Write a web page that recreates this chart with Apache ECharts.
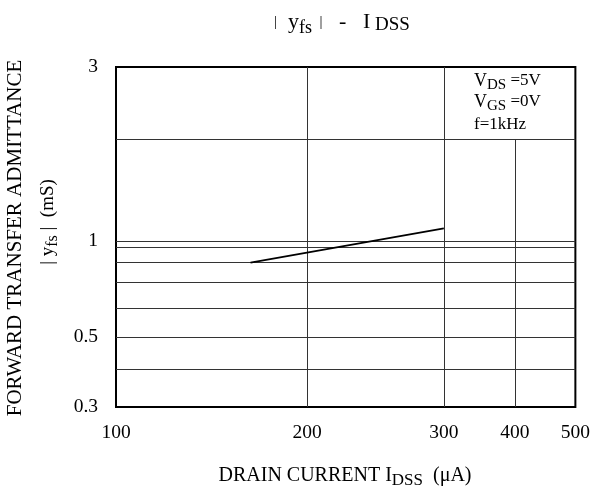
<!DOCTYPE html>
<html><head><meta charset="utf-8">
<script src="https://cdn.jsdelivr.net/npm/echarts@6/dist/echarts.min.js"></script>
<style>html,body{margin:0;padding:0;background:#fff}#c{width:593px;height:494px}</style>
</head><body><div id="c"></div>
<script>
const FONT = '"Liberation Serif","Times New Roman",serif';

// X axis: drain current I_DSS (µA), logarithmic; values at the reference's grid lines
const xTickLabels = ['100', '200', '300', '400', '500'];
const xTickValues = [100, 195.3, 315.4, 404.6, 500];
const xGridFull = [195.3, 315.4];
const xGridPartial = [404.6];            // stops under the conditions box
// Y axis: |yfs| (mS), logarithmic
const yTickLabels = ['0.3', '0.5', '1', '3'];
const yTickValues = [0.3, 0.481, 0.9234, 3];
const yGrid = [0.3862, 0.481, 0.5838, 0.698, 0.7993, 0.8847, 0.9234, 1.838];
const boxBottom = 1.838;
// Curve
const idss = [160.2, 315.4];
const yfs = [0.797, 1.006];

function nearestLabel(vals, labels, v) {
  let bi = 0, bd = Infinity;
  vals.forEach((x, i) => { const d = Math.abs(Math.log(x) - Math.log(v)); if (d < bd) { bd = d; bi = i; } });
  return labels[bi];
}

const ctx = document.createElement('canvas').getContext('2d');
function tw(t, s) { ctx.font = s + 'px ' + FONT; return ctx.measureText(t).width; }
function run(pieces, x, y, align, rotation) {
  const total = pieces.reduce((a, p) => a + tw(p.t, p.s), 0);
  let cx = align === 'center' ? -total / 2 : 0;
  const children = pieces.map(p => {
    const el = { type: 'text', x: cx, y: p.dy || 0, style: { text: p.t, font: p.s + 'px ' + FONT, fill: '#000', textAlign: 'left', textVerticalAlign: 'middle', verticalAlign: 'middle' } };
    cx += tw(p.t, p.s);
    return el;
  });
  return { type: 'group', x: x, y: y, rotation: rotation || 0, children: children, silent: true };
}

const chart = echarts.init(document.getElementById('c'), null, { renderer: 'canvas' });
chart.setOption({
  animation: false,
  backgroundColor: '#fff',
  grid: { left: 116, top: 67, width: 461, height: 340, show: true, borderColor: '#000', borderWidth: 2, backgroundColor: 'transparent' },
  xAxis: {
    type: 'log', logBase: 10, min: 100, max: 500,
    axisLine: { show: false },
    axisTick: { show: false, customValues: xGridFull },
    splitLine: { show: true, lineStyle: { color: '#333', width: 1 } },
    axisLabel: { customValues: xTickValues, formatter: v => nearestLabel(xTickValues, xTickLabels, v), fontFamily: FONT, fontSize: 19.5, color: '#000', margin: 16 }
  },
  yAxis: {
    type: 'log', logBase: 10, min: 0.3, max: 3,
    axisLine: { show: false },
    axisTick: { show: false, customValues: yGrid },
    splitLine: { show: true, lineStyle: { color: '#333', width: 1 } },
    axisLabel: { customValues: yTickValues, formatter: v => nearestLabel(yTickValues, yTickLabels, v), fontFamily: FONT, fontSize: 19.5, color: '#000', margin: 18 }
  },
  series: [{
    type: 'line',
    data: idss.map((x, i) => [x, yfs[i]]),
    symbol: 'none',
    lineStyle: { color: '#000', width: 1.8 },
    z: 5,
    markLine: {
      silent: true, symbol: 'none', label: { show: false },
      lineStyle: { color: '#333', width: 1, type: 'solid' },
      data: xGridPartial.map(v => [{ coord: [v, 0.3] }, { coord: [v, boxBottom] }])
    }
  }],
  graphic: [
    run([{ t: '|', s: 15 }, { t: '  y', s: 22 }, { t: 'fs', s: 18, dy: 6 }, { t: '  |', s: 15 }, { t: '   -   ', s: 22 }, { t: 'I', s: 22 }, { t: ' DSS', s: 19, dy: 3 }], 342, 22, 'center'),
    run([{ t: 'DRAIN CURRENT I', s: 20 }, { t: 'DSS', s: 17, dy: 5 }, { t: '  (μA)', s: 20 }], 345, 476, 'center'),
    run([{ t: 'V', s: 18 }, { t: 'DS', s: 15, dy: 4 }, { t: ' =5V', s: 17 }], 474, 81, 'left'),
    run([{ t: 'V', s: 18 }, { t: 'GS', s: 15, dy: 4 }, { t: ' =0V', s: 17 }], 474, 102, 'left'),
    run([{ t: 'f=1kHz', s: 17 }], 474, 125, 'left'),
    run([{ t: 'FORWARD TRANSFER ADMITTANCE', s: 21 }], 15, 238, 'center', Math.PI / 2),
    run([{ t: '| y', s: 19 }, { t: 'fs', s: 16, dy: 5 }, { t: ' |  (mS)', s: 19 }], 48, 222, 'center', Math.PI / 2)
  ]
});
</script></body></html>
